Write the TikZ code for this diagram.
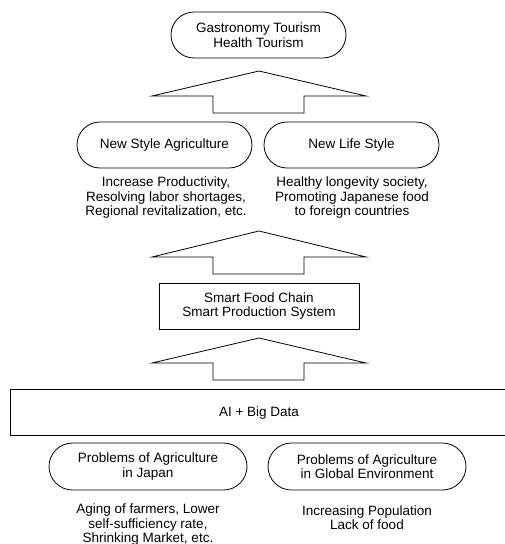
\documentclass[tikz,border=0pt]{standalone}
\usepackage{fontspec}
\setmainfont{Liberation Sans}
\usetikzlibrary{shapes.misc}
\begin{document}
\begin{tikzpicture}[x=1pt,y=-1pt,
  every node/.style={font=\fontsize{13.5}{14.5}\selectfont, align=center, inner sep=0pt},
  stadium/.style={draw, rounded rectangle, line width=0.8pt, minimum width=175pt, minimum height=46pt},
  stadiumwide/.style={stadium, minimum width=198pt, minimum height=47pt},
  sqbox/.style={draw, rectangle, line width=0.8pt},
  blockarrow/.style={draw, line width=0.8pt, line join=miter}]
\useasboundingbox (0,0) rectangle (505,544);
\clip (0,0) rectangle (505,544);
% top
\node[stadium] (tour) at (258.5,35) {Gastronomy Tourism\\Health Tourism};
\coordinate (a1) at (259,71);
\draw[blockarrow] (a1) -- ++(107,25) -- ++(-62,0) -- ++(0,17) -- ++(-91,0) -- ++(0,-17) -- ++(-61,0) -- cycle;
% second row
\node[stadium] (nsa) at (164.5,145) {New Style Agriculture};
\node[stadium] (nls) at (351.5,145) {New Life Style};
\node (nsat) at (166,198) {Increase Productivity,\\Resolving labor shortages,\\Regional revitalization, etc.};
\node (nlst) at (352,198) {Healthy longevity society,\\Promoting Japanese food\\to foreign countries};
\coordinate (a2) at (259,231);
\draw[blockarrow] (a2) -- ++(107,26) -- ++(-62,0) -- ++(0,17) -- ++(-91,0) -- ++(0,-17) -- ++(-61,0) -- cycle;
% smart
\node[sqbox, minimum width=200pt, minimum height=46pt] (smart) at (259,306) {Smart Food Chain\\Smart Production System};
\coordinate (a3) at (259,338);
\draw[blockarrow] (a3) -- ++(107,25) -- ++(-62,0) -- ++(0,17) -- ++(-91,0) -- ++(0,-17) -- ++(-61,0) -- cycle;
% AI
\node[sqbox, minimum width=500pt, minimum height=46pt, anchor=west] (ai) at (9.5,412) {};
\node (aitext) at (259,413) {AI + Big Data};
% bottom
\node[stadiumwide] (pj) at (148,466.5) {Problems of Agriculture\\in Japan};
\node[stadiumwide] (pg) at (367,466.5) {Problems of Agriculture\\in Global Environment};
\node (pjt) at (148,525) {Aging of farmers, Lower\\self-sufficiency rate,\\Shrinking Market, etc.};
\node (pgt) at (367,517.5) {Increasing Population\\Lack of food};
\end{tikzpicture}
\end{document}
